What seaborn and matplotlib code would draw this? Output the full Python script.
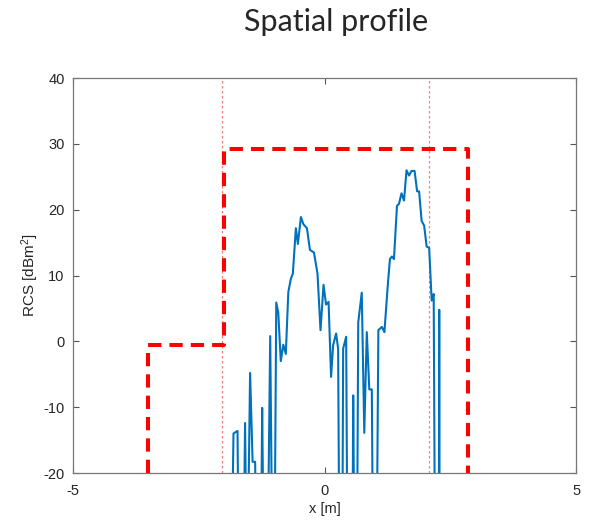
import numpy as np
import pandas as pd
import matplotlib
matplotlib.use("Agg")
import matplotlib.pyplot as plt
import seaborn as sns

# measured RCS profile (values below -20 are off the chart, kept at -40)
x_pos = [-1.86, -1.81, -1.73, -1.70, -1.62, -1.58, -1.54, -1.48, -1.43, -1.38,
         -1.34, -1.27, -1.24, -1.20, -1.14, -1.08, -1.03, -1.00, -0.96, -0.92,
         -0.87, -0.82, -0.77, -0.72, -0.67, -0.63, -0.57, -0.53, -0.47, -0.42,
         -0.35, -0.29, -0.21, -0.14, -0.08, -0.02, 0.03, 0.08, 0.13, 0.17,
         0.23, 0.27, 0.30, 0.35, 0.37, 0.43, 0.46, 0.55, 0.57, 0.60,
         0.64, 0.67, 0.74, 0.79, 0.84, 0.89, 0.94, 0.97, 1.03, 1.07,
         1.14, 1.19, 1.26, 1.30, 1.34, 1.38, 1.44, 1.48, 1.53, 1.58,
         1.63, 1.68, 1.73, 1.79, 1.84, 1.88, 1.93, 1.98, 2.03, 2.08,
         2.13, 2.17, 2.20, 2.27, 2.28, 2.29]
rcs = [-40, -14.0, -13.6, -40, -40, -12.4, -40, -4.8, -18.3, -18.3,
       -40, -40, -10.1, -40, -40, 0.8, -40, -40, 5.9, 4.4,
       -3.0, -0.5, -1.9, 7.5, 9.5, 10.3, 17.2, 14.8, 18.9, 17.8,
       17.2, 13.9, 13.5, 10.3, 1.7, 8.6, 5.6, 6.0, -5.4, -0.6,
       1.2, -1.1, -40, -40, -1.1, 0.7, -40, -40, -8.2, -40,
       -40, 2.9, 7.4, -13.9, 1.4, -7.3, -7.3, -40, -40, 1.7,
       2.2, 1.4, 8.8, 12.5, 12.9, 12.5, 20.6, 20.9, 22.5, 21.4,
       26.0, 25.2, 25.9, 25.9, 22.8, 22.8, 18.3, 17.6, 14.4, 14.2,
       6.2, 7.2, -40, -40, 4.8, -40]

# dashed reference outline
mask_x = [-3.5, -3.5, -2.0, -2.0, 2.85, 2.85]
mask_y = [-20, -0.5, -0.5, 29.3, 29.3, -20]

# thin dotted markers
marker_x = [-2.03, 2.07]

df = pd.DataFrame({"x": x_pos, "rcs": rcs})

sns.set_style("white")
plt.rcParams["font.family"] = ["Liberation Sans", "DejaVu Sans"]
plt.rcParams["mathtext.default"] = "regular"
plt.rcParams["axes.unicode_minus"] = False

fig = plt.figure(figsize=(5.89, 5.23), dpi=100)
ax = fig.add_axes([0.124, 0.0956, 0.854, 0.755])

for mx in marker_x:
    ax.axvline(mx, color="#f08080", lw=0.9, ls=(0, (2, 2)), zorder=1)

sns.lineplot(data=df, x="x", y="rcs", sort=False, estimator=None,
             color="#0072BD", lw=1.5, ax=ax, zorder=2)

ax.plot(mask_x, mask_y, color="#ff0000", lw=2.9, ls=(0, (3.3, 2.0)), zorder=3)

ax.set_xlim(-5, 5)
ax.set_ylim(-20, 40)
ax.set_xticks([-5, 0, 5])
ax.set_yticks(np.arange(-20, 41, 10))
ax.tick_params(direction="in", length=4, width=0.8, colors="#555555",
               labelcolor="#262626", labelsize=10.5,
               top=True, right=True, bottom=True, left=True)
ax.tick_params(axis="x", pad=8)
ax.tick_params(axis="y", pad=6)
for sp in ax.spines.values():
    sp.set_color("#777777")
    sp.set_linewidth(0.9)

ax.set_xlabel("x [m]", fontsize=10.5, color="#262626", labelpad=3)
ax.set_ylabel("RCS [dBm$^2$]", fontsize=11, color="#262626", labelpad=2)

fig.text(0.57, 0.958, "Spatial profile", ha="center", va="center",
         fontsize=22, family="Lato")

fig.savefig("out.png", dpi=100)
